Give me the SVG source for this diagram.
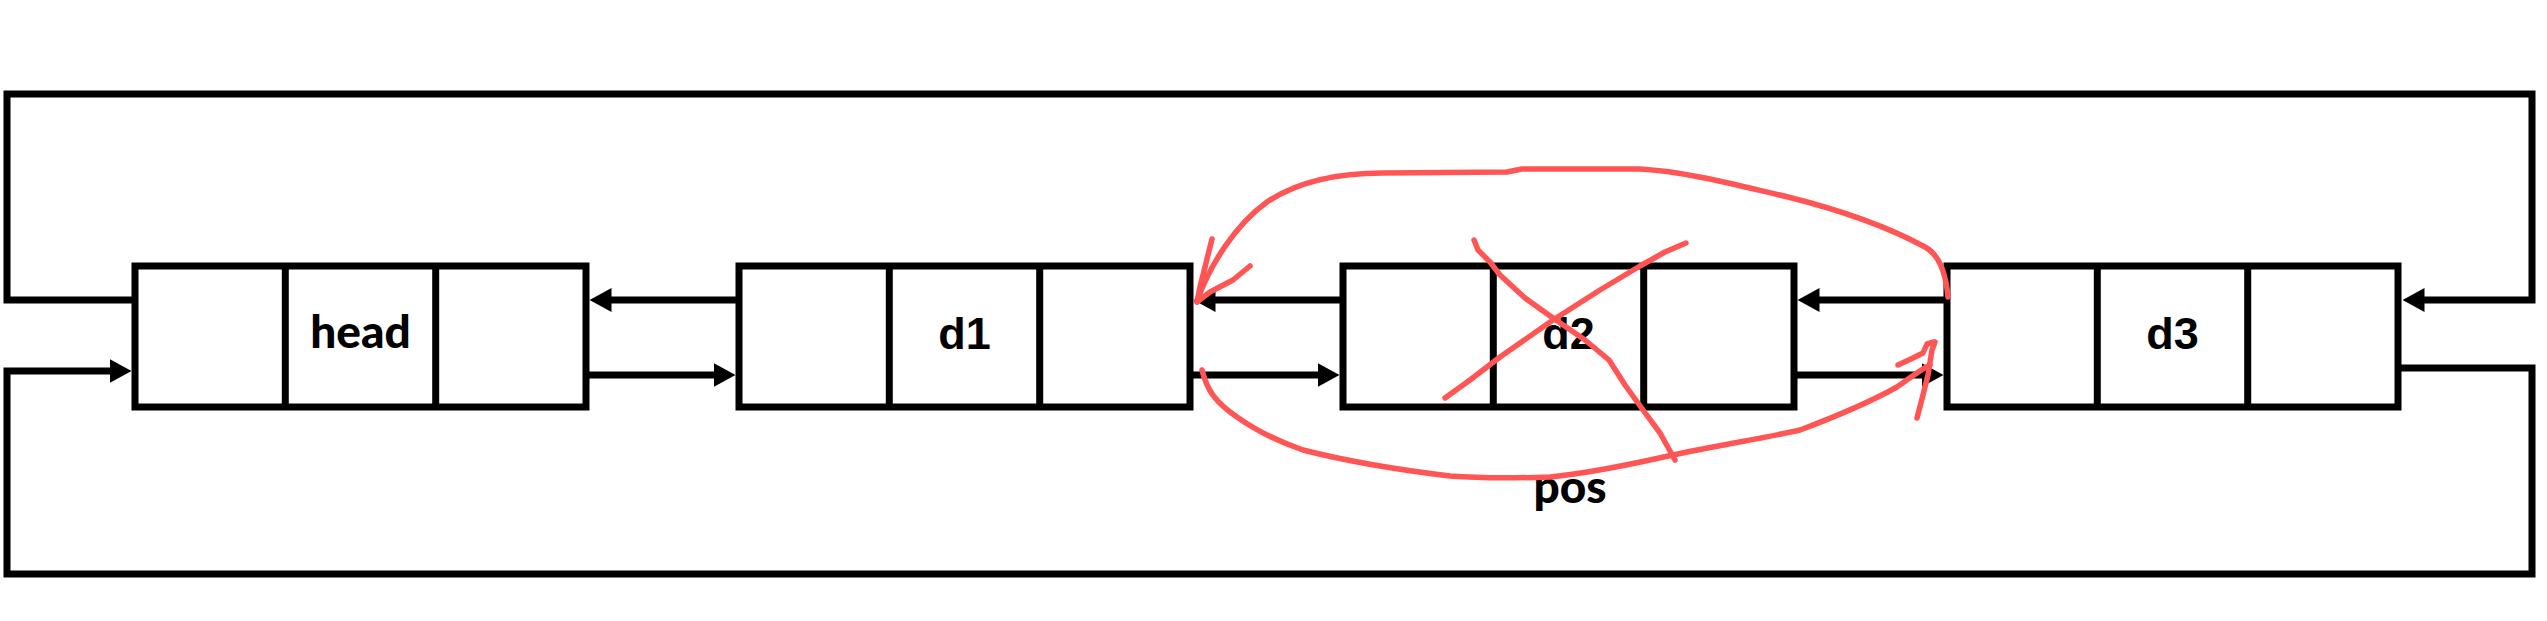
<svg xmlns="http://www.w3.org/2000/svg" width="2547" height="621" viewBox="0 0 2547 621">
<style>
.box{fill:#fff;stroke:#000;stroke-width:7}
.div{stroke:#000;stroke-width:7}
.lbl{font-family:"Liberation Sans",Arial,sans-serif;font-weight:bold;font-size:45px;fill:#000;text-anchor:middle}
.lbl2{font-family:Lato,"Liberation Sans",sans-serif;font-weight:900;font-size:46px;fill:#000;text-anchor:middle}
.con{fill:none;stroke:#000;stroke-width:7;stroke-linejoin:miter}
.red{fill:none;stroke:#F55;stroke-width:5.5;stroke-linecap:round;stroke-linejoin:round}
</style>
<defs>
<marker id="ah" markerUnits="userSpaceOnUse" viewBox="0 0 22 24" markerWidth="22" markerHeight="24" refX="10" refY="12" orient="auto">
<path d="M0,0 L22,12 L0,24 z" fill="#000"/>
</marker>
</defs>
<rect width="2547" height="621" fill="#fff"/>
<g id="connectors">
<path class="con" d="M135,300 H7 V94 H2532 V300 H2414.5" marker-end="url(#ah)"/>
<path class="con" d="M2399,368 H2532 V574 H7 V371 H119.5" marker-end="url(#ah)"/>
<path class="con" d="M739,300 H601.5" marker-end="url(#ah)"/>
<path class="con" d="M1343,300 H1205.5" marker-end="url(#ah)"/>
<path class="con" d="M1947,300 H1809.5" marker-end="url(#ah)"/>
<path class="con" d="M586,375 H723.5" marker-end="url(#ah)"/>
<path class="con" d="M1190,375 H1327.5" marker-end="url(#ah)"/>
<path class="con" d="M1794,375 H1931.5" marker-end="url(#ah)"/>
</g>
<g id="head">
<rect class="box" x="135" y="266" width="451" height="141"/>
<line class="div" x1="285.3" y1="266" x2="285.3" y2="407"/>
<line class="div" x1="435.7" y1="266" x2="435.7" y2="407"/>
<text class="lbl2" x="360.5" y="348">head</text>
</g>
<g id="d1">
<rect class="box" x="739" y="266" width="451" height="141"/>
<line class="div" x1="889.3" y1="266" x2="889.3" y2="407"/>
<line class="div" x1="1039.7" y1="266" x2="1039.7" y2="407"/>
<text class="lbl" x="964.5" y="349">d1</text>
</g>
<g id="d2">
<rect class="box" x="1343" y="266" width="451" height="141"/>
<line class="div" x1="1493.3" y1="266" x2="1493.3" y2="407"/>
<line class="div" x1="1643.7" y1="266" x2="1643.7" y2="407"/>
<text class="lbl" x="1568.5" y="349">d2</text>
</g>
<g id="d3">
<rect class="box" x="1947" y="266" width="451" height="141"/>
<line class="div" x1="2097.3" y1="266" x2="2097.3" y2="407"/>
<line class="div" x1="2247.7" y1="266" x2="2247.7" y2="407"/>
<text class="lbl" x="2172.5" y="349">d3</text>
</g>
<g id="pos">
<text class="lbl2" x="1570" y="503">pos</text>
</g>
<g id="annotations">
<path class="red" d="M1948,297 C1946,275 1940,255 1925,247 C1890,228 1840,210 1788,197 C1740,186 1690,172 1640,169 L1522,169 L1507,172 L1383,173 C1340,173 1300,180 1267,202 C1235,225 1210,265 1197,301"/>
<polyline class="red" points="1212,239 1205,267 1200,287 1197,302"/>
<polyline class="red" points="1250,266 1233,280 1210,292 1197,302"/>
<path class="red" d="M1202,370 C1207,390 1215,402 1237,417 C1258,432 1280,442 1303,450 C1350,462 1400,470 1450,476 C1490,479 1520,478 1550,477 C1600,472 1640,462 1673,455 C1720,445 1770,437 1800,430 C1840,415 1870,402 1897,387 C1910,378 1920,370 1930,365"/>
<polyline class="red" points="1917,418 1923,395 1928,375 1932,350 1935,342"/>
<polyline class="red" points="1898,365 1913,358 1923,353 1927,344 1934,342"/>
<polyline class="red" points="1474,240 1478,250 1490,262 1500,275 1525,298 1553,318 1585,340 1609,360 1625,385 1643,410 1660,433 1675,460"/>
<polyline class="red" points="1445,398 1470,380 1500,357 1553,320 1600,290 1640,266 1665,252 1686,243"/>
</g>
</svg>
